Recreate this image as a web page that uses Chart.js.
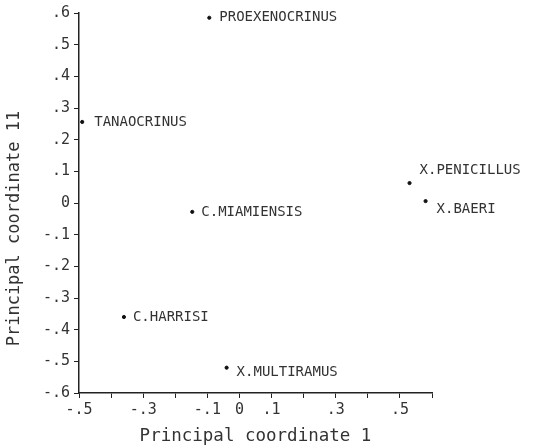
<!DOCTYPE html>
<html>
<head>
<meta charset="utf-8">
<script src="https://cdn.jsdelivr.net/npm/chart.js@4"></script>
<style>
  html, body { margin: 0; padding: 0; background: #fff; }
  #wrap { width: 556px; height: 447px; }
</style>
</head>
<body>
<div id="wrap"><canvas id="grafico" width="556" height="447"></canvas></div>
<script>
// taxa and their principal coordinate scores
const taxa = ["PROEXENOCRINUS", "TANAOCRINUS", "C.MIAMIENSIS", "C.HARRISI", "X.MULTIRAMUS", "X.PENICILLUS", "X.BAERI"];
const coord1 = [-0.094, -0.49, -0.147, -0.36, -0.04, 0.53, 0.58];
const coord2 = [0.585, 0.256, -0.028, -0.36, -0.52, 0.063, 0.006];
const xTickLabels = [-0.5, -0.3, -0.1, 0, 0.1, 0.3, 0.5];

// label placement relative to each dot (dx, dy in px)
const labelOffsets = [[10, 0], [12, 0], [9, 0], [9, 0], [10, 5], [10, -13], [11, 8]];

const fonte = "DejaVu Sans Mono";
const cor = "#333";

function fmt(v) {
    const r = Math.round(v * 10) / 10;
    if (r === 0) return "0";
    return (r < 0 ? "-" : "") + "." + Math.round(Math.abs(r) * 10);
}

const rotulos = {
    id: "rotulos",
    afterDatasetsDraw(chart) {
        const ctx = chart.ctx;
        const meta = chart.getDatasetMeta(0);
        ctx.save();
        ctx.font = "14px '" + fonte + "'";
        ctx.fillStyle = cor;
        ctx.textBaseline = "middle";
        meta.data.forEach(function (p, i) {
            const off = labelOffsets[i];
            ctx.fillText(taxa[i], p.x + off[0], p.y + off[1]);
        });
        ctx.restore();
    }
};

new Chart(document.getElementById("grafico"), {
    type: "scatter",
    data: {
        datasets: [{
            data: coord1.map(function (x, i) { return { x: x, y: coord2[i] }; }),
            backgroundColor: "#111",
            borderColor: "#111",
            pointRadius: 1.6,
            pointHoverRadius: 1.6
        }]
    },
    options: {
        responsive: false,
        animation: false,
        layout: { padding: { top: 8, right: 124, left: 4, bottom: 0 } },
        plugins: { legend: { display: false }, tooltip: { enabled: false } },
        scales: {
            x: {
                type: "linear",
                min: -0.5,
                max: 0.6,
                afterFit: function (s) { s.height = 54; },
                border: { color: "#222", width: 1.5 },
                grid: { display: true, drawOnChartArea: false, tickLength: 5, tickColor: "#222", lineWidth: 1 },
                ticks: {
                    stepSize: 0.1,
                    color: cor,
                    padding: 3,
                    maxRotation: 0,
                    autoSkip: false,
                    font: { family: fonte, size: 15 },
                    callback: function (v) {
                        const r = Math.round(v * 10) / 10;
                        return xTickLabels.some(function (t) { return Math.abs(t - r) < 1e-6; }) ? fmt(r) : "";
                    }
                },
                title: {
                    display: true,
                    text: "Principal coordinate 1",
                    color: cor,
                    font: { family: fonte, size: 17.5 },
                    padding: { top: 0, bottom: 0 }
                }
            },
            y: {
                type: "linear",
                min: -0.6,
                max: 0.6,
                afterFit: function (s) { s.width = 75; },
                border: { color: "#222", width: 1.5 },
                grid: { display: true, drawOnChartArea: false, tickLength: 5, tickColor: "#222", lineWidth: 1 },
                ticks: {
                    stepSize: 0.1,
                    color: cor,
                    padding: 4,
                    autoSkip: false,
                    font: { family: fonte, size: 15 },
                    callback: function (v) { return fmt(v); }
                },
                title: {
                    display: true,
                    text: "Principal coordinate 11     ",
                    color: cor,
                    font: { family: fonte, size: 17 },
                    padding: { top: 0, bottom: 6 }
                }
            }
        }
    },
    plugins: [rotulos]
});
</script>
</body>
</html>
